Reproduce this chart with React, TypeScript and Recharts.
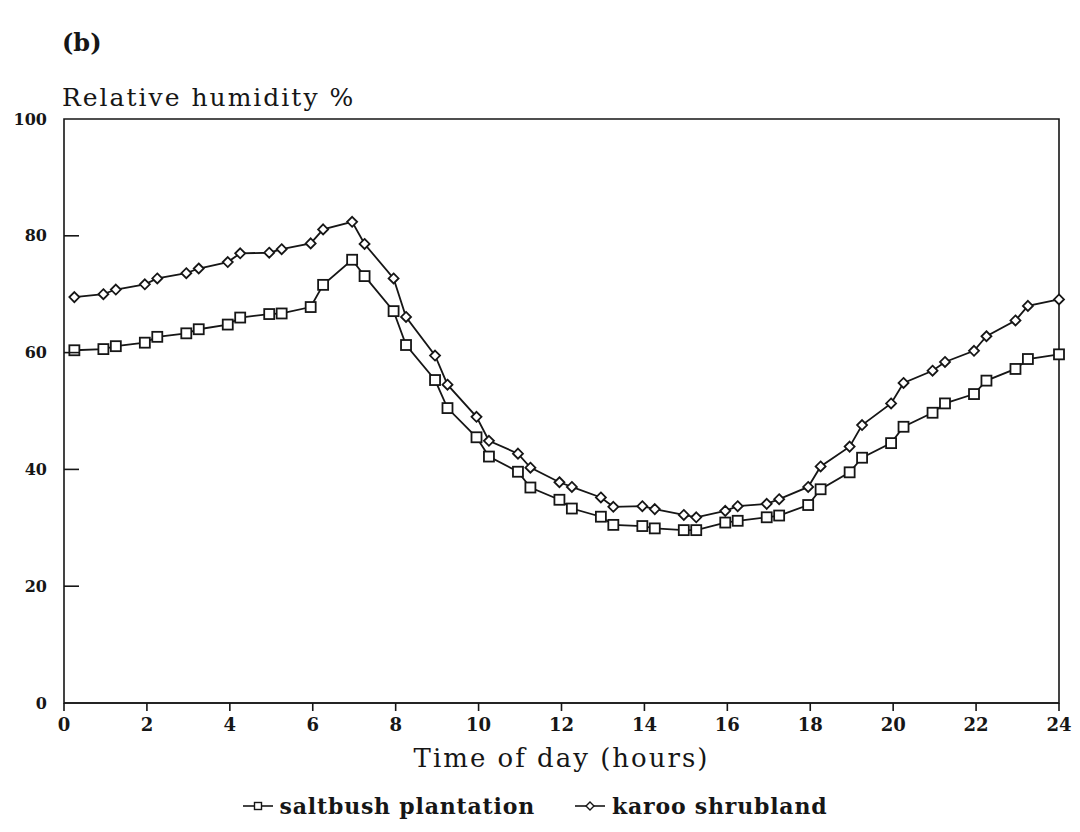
import React from "react";
import { LineChart, Line, XAxis, YAxis, ReferenceArea, Legend } from "recharts";

// time of observation (hours)
const hours = [
  0.25, 0.95, 1.25, 1.95, 2.25, 2.95, 3.25, 3.95, 4.25, 4.95, 5.25, 5.95,
  6.25, 6.95, 7.25, 7.95, 8.25, 8.95, 9.25, 9.95, 10.25, 10.95, 11.25, 11.95,
  12.25, 12.95, 13.25, 13.95, 14.25, 14.95, 15.25, 15.95, 16.25, 16.95, 17.25,
  17.95, 18.25, 18.95, 19.25, 19.95, 20.25, 20.95, 21.25, 21.95, 22.25, 22.95,
  23.25, 24,
];

// relative humidity %
const saltbush = [
  60.4, 60.6, 61.1, 61.7, 62.7, 63.3, 64.0, 64.8, 66.0, 66.6, 66.7, 67.8,
  71.6, 75.9, 73.1, 67.1, 61.3, 55.3, 50.5, 45.5, 42.2, 39.6, 36.9, 34.8,
  33.3, 31.9, 30.5, 30.3, 29.9, 29.6, 29.6, 30.9, 31.2, 31.8, 32.1,
  33.9, 36.6, 39.5, 42.0, 44.5, 47.3, 49.7, 51.3, 52.9, 55.2, 57.2,
  58.9, 59.7,
];

const karoo = [
  69.5, 70.0, 70.8, 71.7, 72.7, 73.6, 74.4, 75.5, 77.0, 77.1, 77.7, 78.7,
  81.1, 82.4, 78.6, 72.7, 66.1, 59.5, 54.5, 49.0, 44.9, 42.7, 40.3, 37.8,
  37.0, 35.2, 33.6, 33.7, 33.2, 32.2, 31.8, 32.9, 33.7, 34.1, 34.9,
  37.0, 40.5, 43.9, 47.6, 51.3, 54.8, 56.9, 58.4, 60.3, 62.8, 65.5,
  68.0, 69.1,
];

const seriesOrder = ["saltbush", "karoo"];
const xTicks = [0, 2, 4, 6, 8, 10, 12, 14, 16, 18, 20, 22, 24];
const yTicks = [0, 20, 40, 60, 80, 100];

const data = hours.map((h, i) => ({
  hour: h,
  saltbush: saltbush[i],
  karoo: karoo[i],
}));

const FONT = "'DejaVu Serif', serif";
const INK = "#161616";

function SquareDot(props: any) {
  const { cx, cy, index } = props;
  if (cx == null || cy == null) return <g key={`s${index}`} />;
  return (
    <rect
      key={`s${index}`}
      x={cx - 5}
      y={cy - 5}
      width={10}
      height={10}
      fill="#fff"
      stroke={INK}
      strokeWidth={1.8}
    />
  );
}

function DiamondDot(props: any) {
  const { cx, cy, index } = props;
  if (cx == null || cy == null) return <g key={`d${index}`} />;
  const r = 5;
  return (
    <polygon
      key={`d${index}`}
      points={`${cx},${cy - r} ${cx + r},${cy} ${cx},${cy + r} ${cx - r},${cy}`}
      fill="#fff"
      stroke={INK}
      strokeWidth={1.8}
    />
  );
}

function YTick(props: any) {
  const { x, y, payload } = props;
  const v = payload.value;
  return (
    <g>
      {v > 0 && v < 100 ? (
        <line x1={x} x2={x + 15} y1={y} y2={y} stroke={INK} strokeWidth={1.6} />
      ) : null}
      <text
        x={x - 17}
        y={y}
        textAnchor="end"
        dominantBaseline="central"
        fontFamily={FONT}
        fontSize={16}
        fontWeight={700}
        fill={INK}
      >
        {v}
      </text>
    </g>
  );
}

function LegendContent(props: any) {
  const items = [...(props.payload || [])].sort(
    (a: any, b: any) => seriesOrder.indexOf(a.dataKey) - seriesOrder.indexOf(b.dataKey)
  );
  return (
    <div
      style={{
        height: 36,
        display: "flex",
        justifyContent: "center",
        alignItems: "center",
        gap: 40,
        paddingRight: 10,
        fontFamily: FONT,
        fontWeight: 700,
        fontSize: 22,
        letterSpacing: 0.8,
        color: INK,
      }}
    >
      {items.map((it: any) => (
        <div key={it.dataKey} style={{ display: "flex", alignItems: "center", gap: 7 }}>
          <svg width={30} height={14}>
            <line x1={0} x2={30} y1={7} y2={7} stroke={INK} strokeWidth={1.6} />
            {it.dataKey === "saltbush" ? (
              <rect x={11.5} y={3.5} width={7} height={7} fill="#fff" stroke={INK} strokeWidth={1.4} />
            ) : (
              <polygon points="15,3 19,7 15,11 11,7" fill="#fff" stroke={INK} strokeWidth={1.4} />
            )}
          </svg>
          <span>{it.value}</span>
        </div>
      ))}
    </div>
  );
}

export default function App() {
  return (
    <div style={{ position: "absolute", left: 0, top: 0, width: 1080, height: 832, background: "#fff" }}>
      <div
        style={{
          position: "absolute",
          left: 62,
          top: 28,
          fontFamily: FONT,
          fontSize: 24,
          fontWeight: 700,
          color: INK,
        }}
      >
        (b)
      </div>
      <LineChart
        width={1080}
        height={832}
        data={data}
        margin={{ top: 119, right: 21, bottom: 23, left: 16 }}
      >
        <ReferenceArea
          x1={0}
          x2={24}
          y1={0}
          y2={100}
          fill="none"
          stroke={INK}
          strokeWidth={1.6}
          ifOverflow="visible"
        />
        <XAxis
          type="number"
          dataKey="hour"
          domain={[0, 24]}
          ticks={xTicks}
          interval={0}
          height={70}
          tickSize={8}
          tickMargin={7}
          stroke={INK}
          axisLine={{ stroke: INK, strokeWidth: 1.6 }}
          tickLine={{ stroke: INK, strokeWidth: 1.6 }}
          tick={{ fill: INK, fontSize: 18, fontWeight: 700, fontFamily: FONT }}
          label={{
            value: "Time of day (hours)",
            position: "insideBottom",
            offset: 6,
            style: { fill: INK, fontSize: 26, fontFamily: FONT, letterSpacing: 2 },
          }}
        />
        <YAxis
          type="number"
          domain={[0, 100]}
          ticks={yTicks}
          interval={0}
          width={48}
          tickSize={0}
          tickMargin={0}
          tickLine={false}
          axisLine={false}
          tick={<YTick />}
          label={{
            content: (p: any) => (
              <text
                x={p.viewBox.x + p.viewBox.width - 2}
                y={p.viewBox.y - 13}
                fontFamily={FONT}
                fontSize={25}
                letterSpacing={2}
                fill={INK}
              >
                Relative humidity %
              </text>
            ),
          }}
        />
        <Legend
          content={<LegendContent />}
          wrapperStyle={{ top: 788, bottom: "auto", left: 0, width: 1080 }}
        />
        <Line
          dataKey="saltbush"
          name="saltbush plantation"
          stroke={INK}
          strokeWidth={1.8}
          dot={SquareDot}
          activeDot={false}
          isAnimationActive={false}
        />
        <Line
          dataKey="karoo"
          name="karoo shrubland"
          stroke={INK}
          strokeWidth={1.8}
          dot={DiamondDot}
          activeDot={false}
          isAnimationActive={false}
        />
      </LineChart>
    </div>
  );
}
